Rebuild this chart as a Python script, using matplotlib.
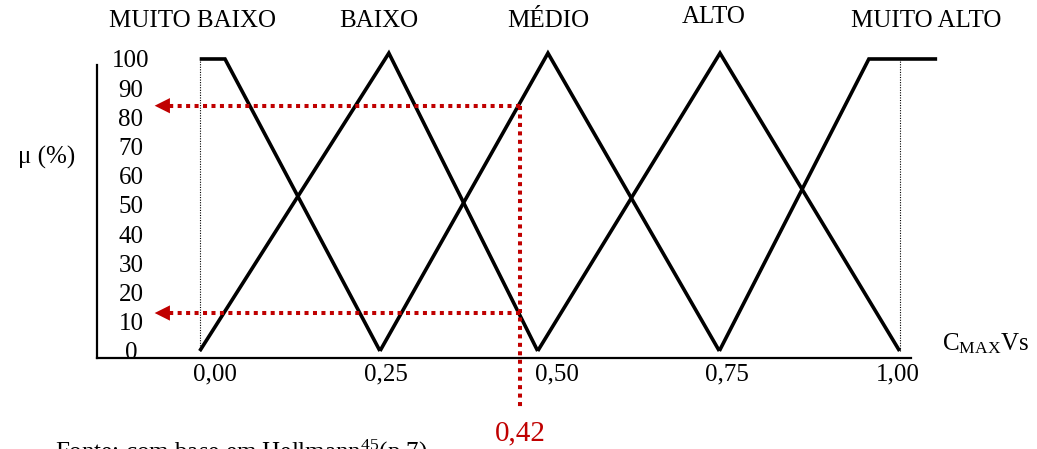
import matplotlib.pyplot as plt
from matplotlib.transforms import ScaledTranslation, blended_transform_factory

plt.rcParams['font.family'] = ['Liberation Serif', 'DejaVu Serif']
plt.rcParams['mathtext.fontset'] = 'custom'
plt.rcParams['mathtext.rm'] = 'Liberation Serif'
plt.rcParams['mathtext.it'] = 'Liberation Serif:italic'

# conjuntos fuzzy de C_MAX Vs: vertices (x, mu %)
classes = ['MUITO BAIXO', 'BAIXO', 'MÉDIO', 'ALTO', 'MUITO ALTO']
mb_x = [-0.049, -0.012, 0.215]
mb_y = [100, 100, 0]
b_x = [-0.049, 0.228, 0.446]
b_y = [0, 102, 0]
m_x = [0.215, 0.461, 0.712]
m_y = [0, 102, 0]
a_x = [0.446, 0.713, 0.976]
a_y = [0, 102, 0]
ma_x = [0.712, 0.931, 1.031]
ma_y = [0, 100, 100]

x_ticks = [0.0, 0.25, 0.50, 0.75, 1.0]
x_tick_labels = ['0,00', '0,25', '0,50', '0,75', '1,00']
y_ticks = [0, 10, 20, 30, 40, 50, 60, 70, 80, 90, 100]

# valor de entrada e graus de pertinencia lidos (MÉDIO, BAIXO)
cut = 0.42
mu_cut = [84, 13]

red = '#C00000'

fig = plt.figure(figsize=(10.37, 4.49), dpi=100)
ax = fig.add_axes([0.0935, 0.2027, 0.8129, 0.7082])

for xs, ys in [(mb_x, mb_y), (b_x, b_y), (m_x, m_y), (a_x, a_y), (ma_x, ma_y)]:
    ax.plot(xs, ys, color='black', lw=2.6, solid_joinstyle='miter',
            solid_capstyle='butt', clip_on=False, zorder=3)

# limites do dominio
for xd in [b_x[0], a_x[-1]]:
    ax.plot([xd, xd], [0, 100], color='black', lw=0.8, dashes=(1, 1.3),
            clip_on=False, zorder=2)

# leitura do valor de entrada
arrow_tip = -0.115
ax.plot([cut, cut], [mu_cut[0], -19.5], color=red, lw=2.9, dashes=(1, 1.1),
        clip_on=False, zorder=4)
for mu in mu_cut:
    ax.plot([cut, arrow_tip + 0.01], [mu, mu], color=red, lw=2.9,
            dashes=(1, 1.1), clip_on=False, zorder=4)
    ax.annotate('', xy=(arrow_tip, mu), xytext=(11, 0), textcoords='offset points',
                arrowprops=dict(arrowstyle='-|>,head_length=11,head_width=5.5',
                                mutation_scale=1, color=red, lw=0,
                                shrinkA=0, shrinkB=0),
                annotation_clip=False)
ax.annotate(f'{cut:.2f}'.replace('.', ','), xy=(cut, 0), xytext=(0, -59),
            textcoords='offset points', ha='center', va='center',
            color=red, fontsize=21, annotation_clip=False)

# eixos
x_min, x_axis_end = -0.1995, 0.9927
y_min, y_axis_end = -2.4, 97.95
for side in ['top', 'right']:
    ax.spines[side].set_visible(False)
for side in ['left', 'bottom']:
    ax.spines[side].set_linewidth(1.6)
ax.set_xticks(x_ticks, x_tick_labels)
ax.set_yticks(y_ticks)
ax.set_xlim(x_min, 1.0351)
ax.set_ylim(y_min, 106.5)
ax.spines['bottom'].set_bounds(x_min, x_axis_end)
ax.spines['left'].set_bounds(y_min, y_axis_end)
ax.tick_params(axis='x', length=0, pad=4, labelsize=18)
ax.tick_params(axis='y', length=0, pad=-24.5, labelsize=18)
for lbl in ax.get_yticklabels():
    lbl.set_ha('center')
shift = ScaledTranslation(-0.18, 0, fig.dpi_scale_trans)
for lbl in ax.get_xticklabels():
    lbl.set_transform(lbl.get_transform() + shift)

ax.set_ylabel('μ (%)', rotation=0, fontsize=18, ha='center', va='center')
ax.yaxis.set_label_coords(-0.0593, 0.632)
ax.text(1.038, 0.3, r'$\mathrm{C}_{\mathrm{MAX}}\mathrm{Vs}$', fontsize=18,
        ha='left', va='baseline')

# nomes dos conjuntos
label_x = [-0.059, 0.2135, 0.461, 0.704, 1.015]
label_y = [0.953, 0.953, 0.953, 0.963, 0.953]
top = blended_transform_factory(ax.transData, fig.transFigure)
for name, lx, ly in zip(classes, label_x, label_y):
    ax.text(lx, ly, name, transform=top, ha='center', va='center', fontsize=18)

fig.text(0.053, -0.024, r'Fonte: com base em Hellmann$^{45}$(p.7)',
         fontsize=18, ha='left', va='baseline')

fig.savefig('out.png', dpi=100)
